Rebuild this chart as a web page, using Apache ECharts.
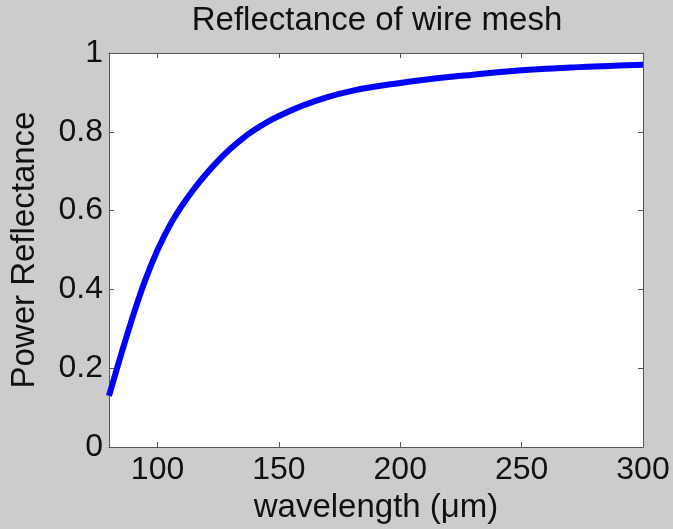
<!DOCTYPE html>
<html>
<head>
<meta charset="utf-8">
<script src="https://cdn.jsdelivr.net/npm/echarts@6/dist/echarts.min.js"></script>
<style>
  html, body { margin: 0; padding: 0; background: #cccccc; }
  #chart { width: 673px; height: 529px; }
</style>
</head>
<body>
<div id="chart"></div>
<script>
// Wavelength samples (µm) and the measured power reflectance of the mesh
const wavelength = [80, 85, 90, 95, 100, 105, 110, 115, 120, 125, 130, 135, 140, 145, 150,
  160, 170, 180, 190, 200, 210, 220, 230, 240, 250, 260, 270, 280, 290, 300];
const reflectance = [0.13, 0.235, 0.335, 0.425, 0.50, 0.562, 0.612, 0.655, 0.693, 0.727, 0.757,
  0.783, 0.805, 0.824, 0.84, 0.867, 0.888, 0.904, 0.915, 0.924, 0.932, 0.939, 0.945, 0.951,
  0.956, 0.960, 0.963, 0.966, 0.968, 0.970];
const xTicks = [100, 150, 200, 250, 300];

const FONT = 'Liberation Sans, Arial, Helvetica, sans-serif';
const AXIS_COLOR = '#555555';
const TEXT_COLOR = '#111111';

const points = wavelength.map((w, i) => [w, reflectance[i]]);

const chart = echarts.init(document.getElementById('chart'), null, { renderer: 'canvas' });

// Every side of the plot box carries a frame line with inward ticks
function boxAxis(base) {
  return Object.assign({
    axisLine: { show: true, onZero: false, lineStyle: { color: AXIS_COLOR, width: 1 } },
    splitLine: { show: false }
  }, base);
}

chart.setOption({
  backgroundColor: '#cccccc',
  animation: false,
  title: {
    text: 'Reflectance of wire mesh',
    left: 372, textAlign: 'center',
    top: -1,
    textStyle: { fontFamily: FONT, fontSize: 33, fontWeight: 'normal', color: TEXT_COLOR }
  },
  grid: {
    left: 101, top: 53, width: 542, height: 396,
    show: true, backgroundColor: '#ffffff', borderWidth: 0
  },
  xAxis: [
    boxAxis({
      type: 'value', min: 80, max: 300, position: 'bottom',
      name: 'wavelength (\u03bcm)', nameLocation: 'middle', nameGap: 40,
      nameTextStyle: { fontFamily: FONT, fontSize: 33, color: TEXT_COLOR },
      axisTick: { show: true, inside: true, length: 5, customValues: xTicks,
        lineStyle: { color: AXIS_COLOR } },
      axisLabel: { customValues: xTicks, margin: 7, fontFamily: FONT, fontSize: 32, color: TEXT_COLOR }
    }),
    boxAxis({
      type: 'value', min: 80, max: 300, position: 'top',
      axisTick: { show: true, inside: true, length: 5, customValues: xTicks,
        lineStyle: { color: AXIS_COLOR } },
      axisLabel: { show: false }
    })
  ],
  yAxis: [
    boxAxis({
      type: 'value', min: 0, max: 1, interval: 0.2, position: 'left',
      name: 'Power Reflectance', nameLocation: 'middle', nameGap: 68,
      nameTextStyle: { fontFamily: FONT, fontSize: 33, color: TEXT_COLOR },
      axisTick: { show: true, inside: true, length: 5, lineStyle: { color: AXIS_COLOR } },
      axisLabel: { margin: 6, fontFamily: FONT, fontSize: 32, color: TEXT_COLOR,
        formatter: v => String(+v.toFixed(1)) }
    }),
    boxAxis({
      type: 'value', min: 0, max: 1, interval: 0.2, position: 'right',
      axisTick: { show: true, inside: true, length: 5, lineStyle: { color: AXIS_COLOR } },
      axisLabel: { show: false }
    })
  ],
  series: [{
    type: 'line',
    data: points,
    xAxisIndex: 0,
    yAxisIndex: 0,
    smooth: 0.4,
    showSymbol: false,
    clip: true,
    lineStyle: { color: '#0000ff', width: 6 }
  }]
});
</script>
</body>
</html>
